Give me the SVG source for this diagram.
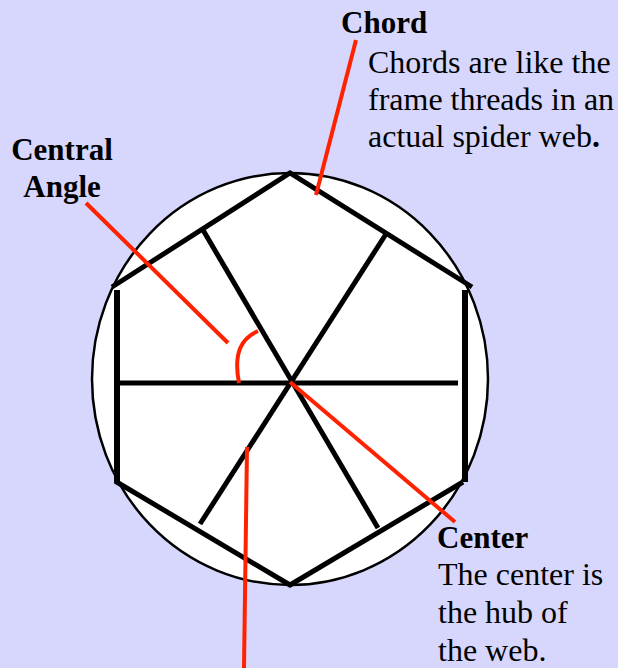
<svg xmlns="http://www.w3.org/2000/svg" width="618" height="668" viewBox="0 0 618 668">
<style>
.web{stroke:#000;stroke-width:5;fill:none;stroke-linecap:butt}
.side{stroke:#000;stroke-width:6;fill:none}
.lead{stroke:#ff2200;stroke-width:4;fill:none}
.t{font-family:"Liberation Serif","Times New Roman",serif;font-size:32px;fill:#000}
.b{font-family:"Liberation Serif","Times New Roman",serif;font-size:31px;font-weight:bold;fill:#000}
</style>
<rect width="618" height="668" fill="#d7d7fd"/>
<g id="web">
<ellipse cx="290" cy="379" rx="198" ry="206" fill="#fff" stroke="#000" stroke-width="2.5"/>
<polyline class="web" points="112,287 290,173 472,287"/>
<polyline class="web" points="115,481 290,585 463,482"/>
<line class="side" x1="117" y1="290" x2="117" y2="482"/>
<line class="side" x1="465" y1="290" x2="465" y2="482"/>
<line class="web" x1="118" y1="383" x2="458" y2="383"/>
<line class="web" x1="203" y1="230" x2="378" y2="528"/>
<line class="web" x1="386" y1="234" x2="200" y2="524"/>
</g>
<g id="connectors">
<line class="lead" x1="356" y1="40" x2="316" y2="195"/>
<line class="lead" x1="86" y1="203" x2="228" y2="343"/>
<path class="lead" d="M258,331 C242,338 233,352 239,383"/>
<line class="lead" x1="290" y1="382" x2="455" y2="522"/>
<line class="lead" x1="247" y1="447" x2="244" y2="668"/>
</g>
<g id="chord">
<text class="b" x="341" y="33">Chord</text>
<text class="t" x="368" y="73">Chords are like the</text>
<text class="t" x="368" y="110">frame threads in an</text>
<text class="t" x="368" y="147">actual spider web<tspan font-weight="bold">.</tspan></text>
</g>
<g id="central-angle">
<text class="b" x="62" y="160" text-anchor="middle">Central</text>
<text class="b" x="62" y="197" text-anchor="middle">Angle</text>
</g>
<g id="center">
<text class="b" x="437" y="548">Center</text>
<text class="t" x="438" y="585">The center is</text>
<text class="t" x="438" y="623">the hub of</text>
<text class="t" x="438" y="661">the web.</text>
</g>
</svg>
